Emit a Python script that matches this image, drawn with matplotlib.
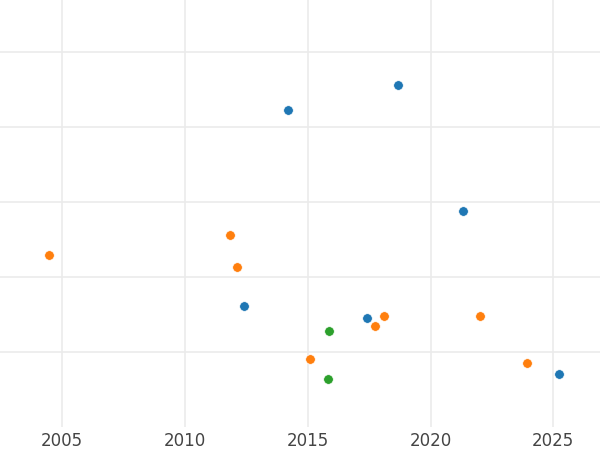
import matplotlib
matplotlib.use("Agg")
import matplotlib.pyplot as plt

# series values (year, value)
blue_x = [2014.21, 2018.69, 2021.33, 2012.41, 2017.42, 2025.24]
blue_y = [4.23, 4.56, 2.88, 1.61, 1.45, 0.71]
orange_x = [2004.47, 2011.84, 2012.13, 2015.10, 2017.75, 2018.12, 2022.03, 2023.94]
orange_y = [2.29, 2.56, 2.13, 0.91, 1.35, 1.48, 1.48, 0.85]
green_x = [2015.88, 2015.84]
green_y = [1.28, 0.64]

x_ticks = [2005, 2010, 2015, 2020, 2025]
y_ticks = [1, 2, 3, 4, 5]

fig = plt.figure(figsize=(6, 4.5), dpi=100)
ax = fig.add_axes([0, 0.051, 1, 0.949])

for xs, ys, c in [(blue_x, blue_y, "#1f77b4"), (orange_x, orange_y, "#ff7f0e"),
                  (green_x, green_y, "#2ca02c")]:
    ax.scatter(xs, ys, s=48, color=c, edgecolors="white", linewidths=0.5, zorder=3)

ax.set_xlim(2002.47, 2026.9)
ax.set_ylim(0, 5.69)
ax.set_xticks(x_ticks)
ax.set_yticks(y_ticks)
ax.set_yticklabels([])
ax.grid(True, color="#ebebeb", linewidth=1.2)
ax.tick_params(axis="both", length=0, labelsize=12, labelcolor="#444444")
for s in ax.spines.values():
    s.set_visible(False)

fig.savefig("out.png", dpi=100)
